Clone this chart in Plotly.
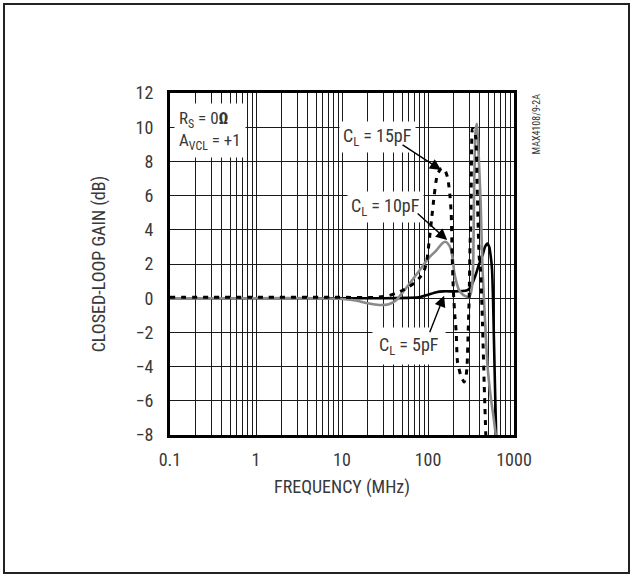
import math
import plotly.graph_objects as go

# ---------------- data ----------------
freq5 = [0.1, 1, 10, 30, 60, 79, 100, 125, 150, 200, 250, 280, 301, 330, 360,
         393, 430, 460, 490, 515, 535, 555, 570, 585, 600, 620]
gain5 = [0, 0, 0, 0, 0.02, 0.05, 0.2, 0.35, 0.4, 0.4, 0.42, 0.45, 0.55, 0.9, 1.4,
         2.0, 2.5, 3.0, 3.2, 3.0, 2.5, 1.7, 0, -2.5, -5, -8]

freq10 = [0.1, 1, 5, 10, 15, 20, 27, 35, 43, 50, 60, 79, 100, 125, 146, 160, 176,
          186, 195, 202, 215, 230, 255, 278, 301, 315, 328, 336, 343, 350, 358,
          370, 382, 395, 409, 430, 468, 491, 537, 580, 614]
gain10 = [0, 0, 0, -0.05, -0.15, -0.3, -0.4, -0.35, -0.1, 0.3, 0.8, 1.6, 2.3, 2.8,
          3.2, 3.3, 3.1, 2.8, 2.2, 1.5, 0.9, 0.47, 0.2, 0.1, 0.06, 0.3, 0.9, 2.2,
          6.0, 8.5, 9.8, 10.2, 9.2, 7.5, 5.7, 1.8, -2, -3.9, -5.8, -7, -8]

freq15 = [0.1, 1, 10, 25, 35, 43, 55, 70, 80, 90, 97, 103, 110, 118, 128, 140,
          150, 160, 170, 180, 186, 191, 197, 205, 213, 220, 240, 263, 278, 285, 293,
          301, 308, 316, 322, 329, 340, 359, 375, 393, 410, 430, 450, 470]
gain15 = [0.05, 0.05, 0.05, 0.05, 0.15, 0.3, 0.55, 0.9, 1.2, 1.6, 2.2, 3.3, 4.6,
          6.0, 7.2, 7.55, 7.6, 7.4, 7.0, 6.0, 5.0, 2.5, 0.5, -1, -2, -3.7, -4.5, -4.9,
          -4.5, -3.9, -2, 0, 3, 5, 9, 9.9, 9.9, 9.4, 6, 2.5, 1.5, -1.5, -5, -8]

x_labels = ["0.1", "1", "10", "100", "1000"]
y_ticks = [-8, -6, -4, -2, 0, 2, 4, 6, 8, 10, 12]

# ---------------- figure ----------------
FONT = "Liberation Sans Narrow, Arial Narrow, Roboto Condensed, DejaVu Sans Condensed, sans-serif"
TXT = "#383838"

fig = go.Figure()
fig.add_trace(go.Scatter(x=freq5, y=gain5, mode="lines", name="CL=5pF",
                         line=dict(color="black", width=2.6, shape="spline", smoothing=0.6)))
fig.add_trace(go.Scatter(x=freq10, y=gain10, mode="lines", name="CL=10pF",
                         line=dict(color="#8a8a8a", width=2.6, shape="spline", smoothing=0.6)))
fig.add_trace(go.Scatter(x=freq15, y=gain15, mode="lines", name="CL=15pF",
                         line=dict(color="black", width=3, dash="5px,6px", shape="spline", smoothing=0.6)))

x_grid = []
x_text = []
dec = 0.1
for d in range(4):
    for m in range(1, 10):
        x_grid.append(round(dec * m, 6))
        x_text.append(x_labels[d] if m == 1 else "")
    dec *= 10
x_grid.append(1000)
x_text.append("1000")

fig.update_xaxes(type="log", range=[-1, 3], tickvals=x_grid, ticktext=x_text,
                 showgrid=True, gridcolor="#1a1a1a", gridwidth=1,
                 showline=True, linecolor="black", linewidth=3, mirror=True,
                 ticks="", zeroline=False, ticklabelstandoff=6,
                 tickfont=dict(family=FONT, size=18, color=TXT),
                 title=dict(text="FREQUENCY (MHz)", standoff=12,
                            font=dict(family=FONT, size=18, color=TXT)))
fig.update_yaxes(range=[-8, 12], tickvals=y_ticks,
                 showgrid=True, gridcolor="#1a1a1a", gridwidth=1,
                 showline=True, linecolor="black", linewidth=3, mirror=True,
                 ticks="", zeroline=False, ticklabelstandoff=10,
                 tickfont=dict(family=FONT, size=18, color=TXT),
                 title=dict(text="CLOSED-LOOP GAIN (dB)", standoff=26,
                            font=dict(family=FONT, size=18, color=TXT)))

L, R, T, B = 170, 120, 93, 143
W, H = 634, 578
pw, ph = W - L - R, H - T - B


def px(x):
    return (x - L) / pw


def py(y):
    return (H - B - y) / ph


# outer frame
fig.add_shape(type="rect", xref="paper", yref="paper",
              x0=px(4), x1=px(629), y0=py(573), y1=py(4),
              line=dict(color="#222", width=2), fillcolor="rgba(0,0,0,0)", layer="above")

ann_font = dict(family=FONT, size=18, color=TXT)

fig.add_annotation(xref="paper", yref="paper", x=px(174), y=py(130),
                   xanchor="left", yanchor="middle", align="left",
                   text="R<sub>S</sub> = 0<b>Ω</b><br>A<sub>VCL</sub> = +1",
                   showarrow=False, bgcolor="white",
                   font=dict(family=FONT, size=17, color=TXT), borderpad=4)
for lx, ly, txt, pad in [(377, 137, "C<sub>L</sub> = 15pF", 3),
                         (385, 207, "C<sub>L</sub> = 10pF", 3),
                         (409, 346, "C<sub>L</sub> = 5pF", 6)]:
    fig.add_annotation(xref="paper", yref="paper", x=px(lx), y=py(ly),
                       xanchor="center", yanchor="middle",
                       text=txt, showarrow=False, bgcolor="white",
                       font=ann_font, borderpad=pad)

for tip_f, tip_g, dx, dy in [(142, 7.5, -40, -26), (167, 3.4, -31, -28), (154, 0.15, -15, 38)]:
    fig.add_annotation(x=math.log10(tip_f), y=tip_g, xref="x", yref="y", text="",
                       showarrow=True, arrowhead=2, arrowsize=1.6, arrowwidth=1.4,
                       arrowcolor="black", ax=dx, ay=dy)

fig.add_annotation(xref="paper", yref="paper", x=px(536), y=py(92),
                   xanchor="center", yanchor="top", textangle=-90,
                   text="MAX4108/9-2A", showarrow=False,
                   font=dict(family=FONT, size=10, color="#333"))

fig.update_layout(width=W, height=H, margin=dict(l=L, r=R, t=T, b=B),
                  paper_bgcolor="white", plot_bgcolor="white", showlegend=False)

fig.write_html("out.html", config={"displayModeBar": False},
               post_script="document.body.style.margin='0';")
